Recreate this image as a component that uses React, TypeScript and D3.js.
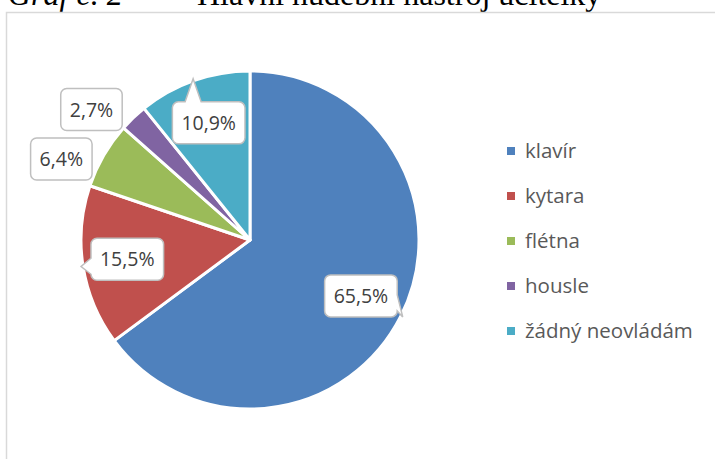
import React from 'react';
import * as d3 from 'd3';

const categories = ['klavír', 'kytara', 'flétna', 'housle', 'žádný neovládám'];
const shares = [65.5, 15.5, 6.4, 2.7, 10.9];
const colors = ['#4F81BD', '#C0504D', '#9BBB59', '#8064A2', '#4BACC6'];
const titleNumber = 'Graf č. 2';
const titleText = 'Hlavní hudební nástroj učitelky';

const W = 715;
const H = 459;
const cx = 250;
const cy = 240;
const R = 169;
const labelSize = 19.5;
const labelFont = `${labelSize}px 'Open Sans'`;
const outsideShift = -0.12; // small outer labels get nudged toward 9 o'clock

let ctx: CanvasRenderingContext2D | null = null;
function textWidth(s: string) {
  if (!ctx) ctx = document.createElement('canvas').getContext('2d');
  if (!ctx) return s.length * 10;
  ctx.font = labelFont;
  return ctx.measureText(s).width;
}

type Box = { x0: number; y0: number; x1: number; y1: number };

function calloutPath(b: Box, r: number, tip: [number, number] | null) {
  const { x0, y0, x1, y1 } = b;
  const hw = 8;
  let side = '';
  if (tip) {
    const [tx, ty] = tip;
    const over = { top: y0 - ty, bottom: ty - y1, left: x0 - tx, right: tx - x1 };
    const best = (Object.keys(over) as Array<keyof typeof over>).reduce((a, k) => (over[k] > over[a] ? k : a), 'top');
    if (over[best] > 0) side = best;
  }
  const bx = tip ? Math.max(x0 + r + hw, Math.min(x1 - r - hw, tip[0])) : 0;
  const by = tip ? Math.max(y0 + r + hw, Math.min(y1 - r - hw, tip[1])) : 0;
  const t = tip ? `L${tip[0]},${tip[1]}` : '';
  let p = `M${x0 + r},${y0}`;
  if (side === 'top') p += `L${bx - hw},${y0}${t}L${bx + hw},${y0}`;
  p += `L${x1 - r},${y0}A${r},${r} 0 0 1 ${x1},${y0 + r}`;
  if (side === 'right') p += `L${x1},${by - hw}${t}L${x1},${by + hw}`;
  p += `L${x1},${y1 - r}A${r},${r} 0 0 1 ${x1 - r},${y1}`;
  if (side === 'bottom') p += `L${bx + hw},${y1}${t}L${bx - hw},${y1}`;
  p += `L${x0 + r},${y1}A${r},${r} 0 0 1 ${x0},${y1 - r}`;
  if (side === 'left') p += `L${x0},${by + hw}${t}L${x0},${by - hw}`;
  p += `L${x0},${y0 + r}A${r},${r} 0 0 1 ${x0 + r},${y0}Z`;
  return p;
}

export default function App() {
  const pie = d3.pie<number>().sort(null).value(d => d);
  const arcs = pie(shares);
  const arc = d3.arc<d3.PieArcDatum<number>>().innerRadius(0).outerRadius(R);

  const labels = arcs.map((a, i) => {
    const text = `${shares[i].toFixed(1).replace('.', ',')}%`;
    const mid = (a.startAngle + a.endAngle) / 2;
    const inside = shares[i] >= 8;
    const ang = inside ? mid : mid + outsideShift;
    const rr = inside ? R * 0.735 : R * 1.215;
    const lx = cx + rr * Math.sin(ang);
    const ly = cy - rr * Math.cos(ang);
    const w = textWidth(text) + 18;
    const h = 42;
    const box = { x0: lx - w / 2, y0: ly - h / 2, x1: lx + w / 2, y1: ly + h / 2 };
    const tip: [number, number] | null = inside
      ? [cx + (R + 2) * Math.sin(mid), cy - (R + 2) * Math.cos(mid)]
      : null;
    return { text, lx, ly, box, tip };
  });

  return (
    <svg width={W} height={H} style={{ position: 'absolute', left: 0, top: 0, background: '#fff' }}>
      <text x={8} y={5} fontFamily="'Liberation Serif'" fontSize={32} fontStyle="italic" fill="#000">
        {titleNumber}
      </text>
      <text x={197} y={5} fontFamily="'Liberation Serif'" fontSize={32} fill="#000">
        {titleText}
      </text>
      <rect x={6.5} y={12.5} width={W + 20} height={H + 20} fill="none" stroke="#d9d9d9" strokeWidth={1.5} />

      <g transform={`translate(${cx},${cy})`}>
        {arcs.map((a, i) => (
          <path key={i} d={arc(a) || ''} fill={colors[i]} stroke="#fff" strokeWidth={3} strokeLinejoin="round" />
        ))}
      </g>

      {labels.map((l, i) => (
        <g key={i}>
          <path d={calloutPath(l.box, 6, l.tip)} fill="#fff" stroke="#bfbfbf" strokeWidth={1.5} />
          <text
            x={l.lx}
            y={l.ly}
            dy="0.36em"
            textAnchor="middle"
            fontFamily="'Open Sans'"
            fontSize={labelSize}
            fill="#404040"
          >
            {l.text}
          </text>
        </g>
      ))}

      <g transform="translate(507,151)">
        {categories.map((c, i) => (
          <g key={c} transform={`translate(0,${i * 45})`}>
            <rect x={0} y={-4} width={8} height={8} fill={colors[i]} />
            <text x={18} y={6.5} fontFamily="'Open Sans'" fontSize={20.5} fill="#595959">
              {c}
            </text>
          </g>
        ))}
      </g>
    </svg>
  );
}
